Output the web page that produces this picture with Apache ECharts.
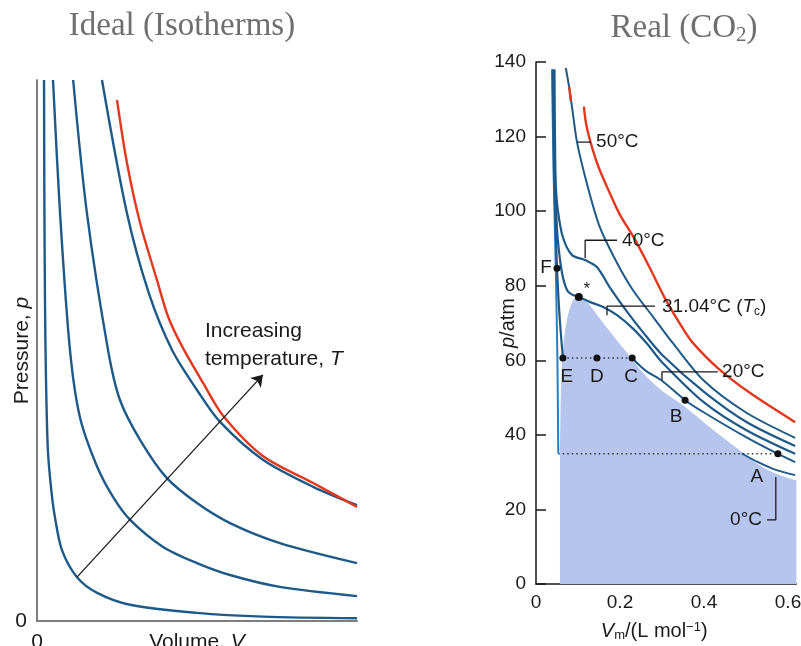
<!DOCTYPE html>
<html>
<head>
<meta charset="utf-8">
<script src="https://cdn.jsdelivr.net/npm/echarts@6/dist/echarts.min.js"></script>
<style>
  html, body { margin: 0; padding: 0; background: #fff; }
  #chart { width: 801px; height: 646px; }
</style>
</head>
<body>
<div id="chart"></div>
<script>
// ---- left panel: ideal isotherms (arbitrary units, 0..10) ----
const idealT1 = [[0.22, 10], [0.23, 7.8], [0.25, 5.9], [0.28, 4.5], [0.34, 3.16], [0.45, 2.4], [0.56, 1.92], [0.78, 1.31], [1.25, 0.81], [1.88, 0.52], [2.91, 0.3], [5.0, 0.15], [7.06, 0.08], [10, 0.05]];
const idealT2 = [[0.5, 10], [0.72, 7.54], [1.03, 5.01], [1.34, 3.77], [1.88, 2.85], [2.38, 2.29], [2.91, 1.87], [3.94, 1.37], [5.0, 1.07], [6.03, 0.85], [7.59, 0.63], [10, 0.46]];
const idealT3 = [[1.13, 10], [1.56, 7.54], [2.22, 5.01], [2.59, 4.09], [3.22, 3.35], [4.06, 2.64], [5.0, 2.18], [6.03, 1.81], [7.59, 1.44], [10, 1.07]];
const idealT4 = [[2.03, 10], [2.81, 7.54], [3.5, 6.05], [4.22, 5.01], [5.0, 4.27], [5.72, 3.68], [7.06, 2.98], [8.63, 2.48], [10, 2.14]];
const idealRed = [[2.5, 9.63], [2.81, 8.47], [3.22, 7.36], [3.75, 6.3], [4.1, 5.62], [4.53, 5.08], [5.19, 4.4], [5.81, 3.8], [7.06, 3.05], [8.63, 2.55], [10, 2.11]];
const arrowCoords = [[1.25, 0.81], [7.06, 4.55]];
const arrowText = [5.25, 5.62];

// ---- right panel: CO2 isotherms, Vm in L/mol, p in atm ----
const co2Dome = [[0.057, 35], [0.059, 50], [0.061, 58], [0.065, 64], [0.07, 68.5], [0.078, 73], [0.088, 76], [0.1, 77.3], [0.115, 76.5], [0.13, 74.5], [0.15, 71.5], [0.17, 68.5], [0.2, 64.3], [0.229, 60.3], [0.26, 56], [0.3, 51.8], [0.355, 47.5], [0.42, 41.5], [0.49, 35.4], [0.53, 32], [0.571, 29.6], [0.62, 27.8]];
const co2Liquid0 = [[0.038, 138], [0.042, 110], [0.047, 85], [0.051, 60], [0.053, 35]];
const co2T0 = [[0.49, 35], [0.53, 32.6], [0.571, 30.6], [0.617, 29.2]];
const co2T20Liquid = [[0.04, 138], [0.043, 110], [0.047, 95], [0.05, 84.7], [0.056, 72], [0.064, 60.6]];
const co2T20 = [[0.229, 60.6], [0.26, 57.3], [0.3, 54.5], [0.355, 49.3], [0.4, 46], [0.5, 39.4], [0.576, 34.9], [0.617, 32.7]];
const co2Tc = [[0.042, 138], [0.044, 115], [0.048, 100], [0.052, 92.2], [0.062, 83.4], [0.074, 78.8], [0.086, 77.6], [0.102, 77], [0.129, 75.6], [0.16, 74.3], [0.193, 72.1], [0.231, 68.5], [0.264, 64.5], [0.3, 59.5], [0.4, 48.7], [0.5, 41.3], [0.617, 34.9]];
const co2T40 = [[0.044, 138], [0.045, 122], [0.047, 107.5], [0.052, 100.3], [0.064, 93], [0.086, 88.2], [0.117, 86.9], [0.145, 85], [0.176, 79.5], [0.217, 73], [0.255, 67.5], [0.3, 61.5], [0.4, 51.5], [0.5, 43.5], [0.617, 37]];
const co2T50 = [[0.071, 138.4], [0.08, 132.5], [0.088, 126], [0.098, 118.3], [0.121, 107.5], [0.152, 95.7], [0.193, 86.1], [0.231, 78.8], [0.279, 71.6], [0.326, 64.6], [0.4, 54.5], [0.5, 46], [0.617, 39.2]];
const co2Red = [[0.114, 128], [0.12, 123], [0.135, 116.5], [0.15, 111.5], [0.175, 105], [0.2, 99], [0.235, 92.5], [0.27, 85], [0.31, 76], [0.35, 68.5], [0.374, 64.6], [0.433, 57.9], [0.51, 51.2], [0.617, 43.4]];
const co2RedStub = [[0.079, 133.3], [0.083, 129.5]];
const dotted60 = [[0.064, 60.6], [0.229, 60.6]];
const dotted35 = [[0.053, 34.9], [0.576, 34.9]];

const co2Points = [
  { name: 'F', value: [0.05, 84.7] },
  { name: 'E', value: [0.064, 60.6] },
  { name: 'D', value: [0.145, 60.6] },
  { name: 'C', value: [0.229, 60.6] },
  { name: 'B', value: [0.355, 49.3] },
  { name: 'A', value: [0.576, 34.9] },
  { name: '*', value: [0.102, 77] }
];
const tempLabels = [
  { name: '50°C', value: [0.143, 118.5] },
  { name: '40°C', value: [0.205, 92] },
  { name: '31.04°C ({i|T}{sub|c})', value: [0.3, 74.3] },
  { name: '20°C', value: [0.443, 57] },
  { name: '0°C', value: [0.538, 17.2] }
];
const leaders = [
  [[0.098, 118.5], [0.131, 118.5]],
  [[0.117, 87.4], [0.117, 92.2], [0.193, 92.2]],
  [[0.169, 72.1], [0.169, 74.5], [0.283, 74.5]],
  [[0.3, 54.7], [0.3, 56.9], [0.433, 56.9]],
  [[0.55, 17.2], [0.571, 17.2], [0.571, 28.7]]
];
const yTicksReal = [0, 20, 40, 60, 80, 100, 120, 140];
const xTicksReal = [0.2, 0.4, 0.6];
const xLabelsReal = [0, 0.2, 0.4, 0.6];

const FONT = 'Liberation Sans, Arial, sans-serif';
const BLUE = '#1d5a88';
const RED = '#e2381e';
const INK = '#1a1a1a';

// label offsets in px, relative to the dot
const pointLabelOffset = {
  F: [-11, 0], E: [4, 19], D: [0, 19], C: [-1, 19],
  B: [-9, 17], A: [-21, 23], '*': [8, -8]
};

const richText = {
  i: { fontStyle: 'italic', fontFamily: FONT, fontSize: 19, color: INK },
  sub: { fontSize: 12, fontFamily: FONT, color: INK, padding: [9, 0, 0, 0] },
  sup: { fontSize: 12, fontFamily: FONT, color: INK, padding: [0, 0, 8, 0] }
};
const richName = {
  i: { fontStyle: 'italic', fontFamily: FONT, fontSize: 20, color: INK },
  sub: { fontSize: 13, fontFamily: FONT, color: INK, padding: [9, 0, 0, 0] },
  sup: { fontSize: 13, fontFamily: FONT, color: INK, padding: [0, 0, 8, 0] }
};

function curve(data, color, width, grid, z) {
  return {
    type: 'line',
    data,
    xAxisIndex: grid,
    yAxisIndex: grid,
    showSymbol: false,
    smooth: 0.3,
    z: z || 3,
    lineStyle: { color, width },
    silent: true
  };
}

const chart = echarts.init(document.getElementById('chart'));

const series = [
  // left
  curve(idealT1, BLUE, 2.4, 0),
  curve(idealT2, BLUE, 2.4, 0),
  curve(idealT3, BLUE, 2.4, 0),
  curve(idealT4, BLUE, 2.4, 0),
  curve(idealRed, RED, 2.4, 0, 4),
  {
    type: 'lines',
    coordinateSystem: 'cartesian2d',
    xAxisIndex: 0,
    yAxisIndex: 0,
    symbol: ['none', 'arrow'],
    symbolSize: 11,
    lineStyle: { color: INK, width: 1.3, opacity: 1 },
    data: [{ coords: arrowCoords }],
    z: 5
  },
  {
    type: 'scatter',
    xAxisIndex: 0,
    yAxisIndex: 0,
    symbolSize: 0,
    itemStyle: { opacity: 1 },
    data: [{ value: arrowText }],
    label: {
      show: true,
      position: 'inside',
      align: 'left',
      verticalAlign: 'top',
      fontFamily: FONT,
      fontSize: 21,
      lineHeight: 28,
      color: INK,
      formatter: 'Increasing\ntemperature, {i|T}',
      rich: { i: { fontStyle: 'italic', fontFamily: FONT, fontSize: 21, lineHeight: 28, color: INK } }
    }
  },
  // right
  {
    type: 'line',
    data: co2Dome,
    xAxisIndex: 1,
    yAxisIndex: 1,
    showSymbol: false,
    smooth: 0.3,
    lineStyle: { width: 0 },
    areaStyle: { color: '#b5c5ee', opacity: 1 },
    z: 1,
    silent: true
  },
  {
    type: 'line', data: dotted60, xAxisIndex: 1, yAxisIndex: 1, showSymbol: false, z: 2,
    lineStyle: { color: '#333', width: 1.5, type: [1.5, 3] }
  },
  {
    type: 'line', data: dotted35, xAxisIndex: 1, yAxisIndex: 1, showSymbol: false, z: 2,
    lineStyle: { color: '#333', width: 1.5, type: [1.5, 3] }
  },
  curve(co2Liquid0, '#2a7fc0', 2, 1),
  curve(co2T0, BLUE, 2, 1),
  curve(co2T20Liquid, BLUE, 2.2, 1),
  curve(co2T20, BLUE, 2, 1),
  curve(co2Tc, BLUE, 2.2, 1),
  curve(co2T40, BLUE, 2.2, 1),
  curve(co2T50, BLUE, 2, 1),
  curve(co2Red, RED, 2.4, 1),
  curve(co2RedStub, RED, 2.4, 1, 4)
];

leaders.forEach(l => {
  series.push({
    type: 'line', data: l, xAxisIndex: 1, yAxisIndex: 1, showSymbol: false, z: 4,
    lineStyle: { color: INK, width: 1.3 }, silent: true
  });
});

series.push({
  type: 'scatter',
  xAxisIndex: 1,
  yAxisIndex: 1,
  symbolSize: 0,
  z: 6,
  itemStyle: { opacity: 1 },
  data: tempLabels.map(t => ({
    value: t.value,
    name: t.name,
    label: { align: t.name === '0°C' ? 'right' : 'left' }
  })),
  label: {
    show: true,
    position: 'inside',
    verticalAlign: 'middle',
    fontFamily: FONT,
    fontSize: 19,
    color: INK,
    formatter: '{b}',
    rich: richText
  }
});

series.push({
  type: 'scatter',
  xAxisIndex: 1,
  yAxisIndex: 1,
  z: 7,
  data: co2Points.map(p => ({
    value: p.value,
    name: p.name,
    symbolSize: p.name === '*' ? 8 : 7,
    label: { offset: pointLabelOffset[p.name], fontSize: p.name === '*' ? 17 : 19 }
  })),
  itemStyle: { color: '#111', opacity: 1 },
  label: {
    show: true,
    position: 'inside',
    align: 'center',
    verticalAlign: 'middle',
    fontFamily: FONT,
    fontSize: 19,
    color: INK,
    formatter: '{b}'
  }
});

const option = {
  animation: false,
  backgroundColor: '#fff',
  title: [
    {
      text: 'Ideal (Isotherms)',
      left: 182,
      top: 10,
      padding: 0,
      textAlign: 'center',
      textStyle: { fontFamily: 'Liberation Serif, serif', fontSize: 33, fontWeight: 'normal', color: '#6f6f6f' }
    },
    {
      text: 'Real (CO{s|2})',
      left: 684,
      top: 10,
      padding: 0,
      textAlign: 'center',
      textStyle: {
        fontFamily: 'Liberation Serif, serif', fontSize: 33, fontWeight: 'normal', color: '#6f6f6f',
        rich: { s: { fontFamily: 'Liberation Serif, serif', fontSize: 21, color: '#6f6f6f', padding: [15, 0, 0, 0] } }
      }
    }
  ],
  grid: [
    { left: 37, top: 80, width: 320, height: 541, outerBoundsMode: 'none' },
    { left: 536, top: 62, width: 260.4, height: 522, outerBoundsMode: 'none' }
  ],
  xAxis: [
    {
      gridIndex: 0,
      type: 'value',
      min: 0,
      max: 10,
      interval: 10,
      splitLine: { show: false },
      axisTick: { show: false },
      axisLine: { lineStyle: { color: '#7d7d7d', width: 2 } },
      axisLabel: {
        margin: 11,
        fontFamily: FONT,
        fontSize: 21,
        color: INK,
        formatter: v => (v === 0 ? '0' : '')
      },
      name: 'Volume, {i|V}',
      nameLocation: 'middle',
      nameGap: 11,
      nameMoveOverlap: false,
      nameTextStyle: {
        fontFamily: FONT, fontSize: 21, color: INK, verticalAlign: 'top',
        rich: { i: { fontStyle: 'italic', fontFamily: FONT, fontSize: 21, color: INK } }
      }
    },
    {
      gridIndex: 1,
      type: 'value',
      min: 0,
      max: 0.62,
      splitLine: { show: false },
      axisLine: { onZero: false, lineStyle: { color: INK, width: 1.5 } },
      axisTick: { inside: true, length: 12, customValues: xTicksReal, lineStyle: { color: INK, width: 1.5 } },
      axisLabel: { margin: 9, customValues: xLabelsReal, fontFamily: FONT, fontSize: 19, color: INK },
      name: '{i|V}{sub|m}/(L mol{sup|−1})',
      nameLocation: 'middle',
      nameGap: 36,
      nameMoveOverlap: false,
      nameTextStyle: {
        fontFamily: FONT, fontSize: 20, color: INK, padding: [0, 24, 0, 0],
        rich: richName
      }
    }
  ],
  yAxis: [
    {
      gridIndex: 0,
      type: 'value',
      min: 0,
      max: 10,
      interval: 10,
      splitLine: { show: false },
      axisTick: { show: false },
      axisLine: { lineStyle: { color: '#7d7d7d', width: 2 } },
      axisLabel: {
        margin: 10,
        fontFamily: FONT,
        fontSize: 21,
        color: INK,
        formatter: v => (v === 0 ? '0' : '')
      },
      name: 'Pressure, {i|p}',
      nameLocation: 'middle',
      nameGap: 4,
      nameMoveOverlap: false,
      nameTextStyle: {
        fontFamily: FONT, fontSize: 21, color: INK,
        rich: { i: { fontStyle: 'italic', fontFamily: FONT, fontSize: 21, color: INK } }
      }
    },
    {
      gridIndex: 1,
      type: 'value',
      min: 0,
      max: 140,
      interval: 20,
      splitLine: { show: false },
      axisLine: { show: true, onZero: false, lineStyle: { color: INK, width: 1.5 } },
      axisTick: { inside: true, length: 10, customValues: yTicksReal, lineStyle: { color: INK, width: 1.5 } },
      axisLabel: { margin: 10, fontFamily: FONT, fontSize: 19, color: INK },
      name: '{i|p}/atm',
      nameLocation: 'middle',
      nameGap: 18,
      nameMoveOverlap: false,
      nameTextStyle: { fontFamily: FONT, fontSize: 20, color: INK, rich: richName }
    }
  ],
  series
};

chart.setOption(option);
</script>
</body>
</html>
